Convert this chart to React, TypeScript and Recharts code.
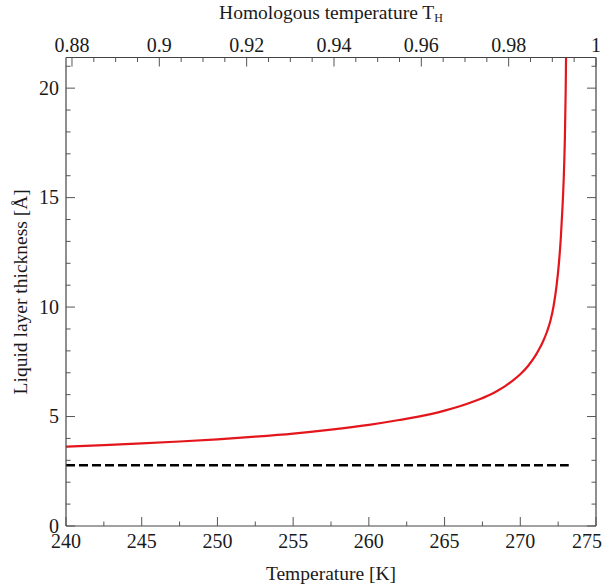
import React from 'react';
import { ComposedChart, Line, XAxis, YAxis, Label } from 'recharts';

// liquid layer thickness (Å) vs temperature (K)
const tempK = [
  240, 242.5, 245, 247.5, 250, 252.5, 255, 257.5, 260, 262, 264, 265, 266, 267, 268, 268.5,
  269, 269.5, 270, 270.5, 271, 271.25, 271.5, 271.75, 272, 272.2, 272.4, 272.55, 272.68,
  272.79, 272.88, 272.95, 273, 273.04,
];
const thickness = [
  3.62, 3.69, 3.77, 3.86, 3.96, 4.08, 4.22, 4.4, 4.62, 4.84, 5.1, 5.27, 5.47, 5.71, 6.0, 6.18,
  6.39, 6.64, 6.93, 7.3, 7.78, 8.08, 8.43, 8.85, 9.4, 10.05, 11.0, 12.0, 13.2,
  14.6, 16.1, 17.9, 20.0, 22.6,
];
// dashed reference level
const refTemp = [240, 273.2];
const refThickness = [2.78, 2.78];

const bottomMajor = [240, 245, 250, 255, 260, 265, 270, 275];
const bottomMinor = [242.5, 247.5, 252.5, 257.5, 262.5, 267.5, 272.5];
const topMajor = [0.88, 0.9, 0.92, 0.94, 0.96, 0.98, 1];
const topMinor = [0.885, 0.89, 0.895, 0.905, 0.91, 0.915, 0.925, 0.93, 0.935, 0.945, 0.95, 0.955, 0.965, 0.97, 0.975, 0.985, 0.99, 0.995];
const yMajor = [0, 5, 10, 15, 20];
const yMinor = [1, 2, 3, 4, 6, 7, 8, 9, 11, 12, 13, 14, 16, 17, 18, 19, 21];

const curve = tempK.map((T, i) => ({ T, d: thickness[i] }));
const refLine = refTemp.map((T, i) => ({ T, d: refThickness[i] }));

const FONT = '"Liberation Serif", "Times New Roman", serif';
const TICK_COLOR = '#555';
const FRAME = '#444';

const isMajor = (list: number[], v: number) => list.some((m) => Math.abs(m - v) < 1e-9);

const makeTick = (side: 'bottom' | 'top' | 'left' | 'right', majors: number[]) => (props: any) => {
  const { x, y, payload } = props;
  const v = payload.value;
  const major = isMajor(majors, v);
  const len = major ? 9 : 4.5;
  const txtStyle = { fontFamily: FONT, fontSize: 20, fill: '#1a1a1a' };
  if (side === 'bottom') {
    const last = v === majors[majors.length - 1];
    return (
      <g>
        <line x1={x} y1={y} x2={x} y2={y - len} stroke={TICK_COLOR} strokeWidth={1} />
        {major && (
          <text x={last ? x + 6 : x} y={y + 22} textAnchor={last ? 'end' : 'middle'} {...txtStyle}>
            {String(v)}
          </text>
        )}
      </g>
    );
  }
  if (side === 'top') {
    return (
      <g>
        <line x1={x} y1={y} x2={x} y2={y + len} stroke={TICK_COLOR} strokeWidth={1} />
        {major && <text x={x} y={y - 6} textAnchor="middle" {...txtStyle}>{String(v)}</text>}
      </g>
    );
  }
  if (side === 'left') {
    return (
      <g>
        <line x1={x} y1={y} x2={x + len} y2={y} stroke={TICK_COLOR} strokeWidth={1} />
        {major && <text x={x - 7} y={y + 6.5} textAnchor="end" {...txtStyle}>{String(v)}</text>}
      </g>
    );
  }
  return <line x1={x} y1={y} x2={x - len} y2={y} stroke={TICK_COLOR} strokeWidth={1} />;
};

const BottomTitle = (props: any) => {
  const { x, y, width } = props.viewBox;
  return (
    <text x={x + width / 2} y={y + 54} textAnchor="middle" fontFamily={FONT} fontSize={19.5} fill="#1a1a1a">
      Temperature [K]
    </text>
  );
};

const TopTitle = (props: any) => {
  const { x, width } = props.viewBox;
  return (
    <text x={x + width / 2} y={19} textAnchor="middle" fontFamily={FONT} fontSize={19.5} fill="#1a1a1a">
      Homologous temperature T<tspan fontSize={12} dy={3}>H</tspan>
    </text>
  );
};

const LeftTitle = (props: any) => {
  const { y, height } = props.viewBox;
  const cx = 20;
  const cy = y + height / 2;
  return (
    <text x={cx} y={cy} transform={`rotate(-90, ${cx}, ${cy})`} textAnchor="middle"
      dominantBaseline="central" fontFamily={FONT} fontSize={19.5} fill="#1a1a1a">
      Liquid layer thickness [Å]
    </text>
  );
};

export default function App() {
  return (
    <div style={{ position: 'absolute', left: 0, top: 0, background: '#fff' }}>
      <ComposedChart width={603} height={585} margin={{ top: 0, right: 0, left: 0, bottom: 0 }}>
        <XAxis xAxisId="bottom" dataKey="T" type="number" domain={[240, 275]} allowDataOverflow
          ticks={[...bottomMajor, ...bottomMinor]} interval={0} height={59}
          tickSize={0} tickMargin={0} tickLine={false} tick={makeTick('bottom', bottomMajor)}
          axisLine={{ stroke: FRAME, strokeWidth: 1.2 }}>
          <Label content={BottomTitle} />
        </XAxis>
        <XAxis xAxisId="top" orientation="top" dataKey="T" type="number" domain={[0.87863, 1]} allowDataOverflow
          ticks={[...topMajor, ...topMinor]} interval={0} height={57.5}
          tickSize={0} tickMargin={0} tickLine={false} tick={makeTick('top', topMajor)}
          axisLine={{ stroke: FRAME, strokeWidth: 1.2 }}>
          <Label content={TopTitle} />
        </XAxis>
        <YAxis yAxisId="left" type="number" domain={[0, 21.4]} allowDataOverflow
          ticks={[...yMajor, ...yMinor]} interval={0} width={66}
          tickSize={0} tickMargin={0} tickLine={false} tick={makeTick('left', yMajor)}
          axisLine={{ stroke: FRAME, strokeWidth: 1.2 }}>
          <Label content={LeftTitle} />
        </YAxis>
        <YAxis yAxisId="right" orientation="right" type="number" domain={[0, 21.4]} allowDataOverflow
          ticks={[...yMajor, ...yMinor]} interval={0} width={7}
          tickSize={0} tickMargin={0} tickLine={false} tick={makeTick('right', yMajor)}
          axisLine={{ stroke: FRAME, strokeWidth: 1.2 }} />
        <Line xAxisId="bottom" yAxisId="left" data={refLine} dataKey="d" type="linear"
          stroke="#000" strokeWidth={2.5} strokeDasharray="9 4" dot={false} activeDot={false}
          isAnimationActive={false} />
        <Line xAxisId="bottom" yAxisId="left" data={curve} dataKey="d" type="monotone"
          stroke="#e3161c" strokeWidth={2.2} dot={false} activeDot={false}
          isAnimationActive={false} />
      </ComposedChart>
    </div>
  );
}
